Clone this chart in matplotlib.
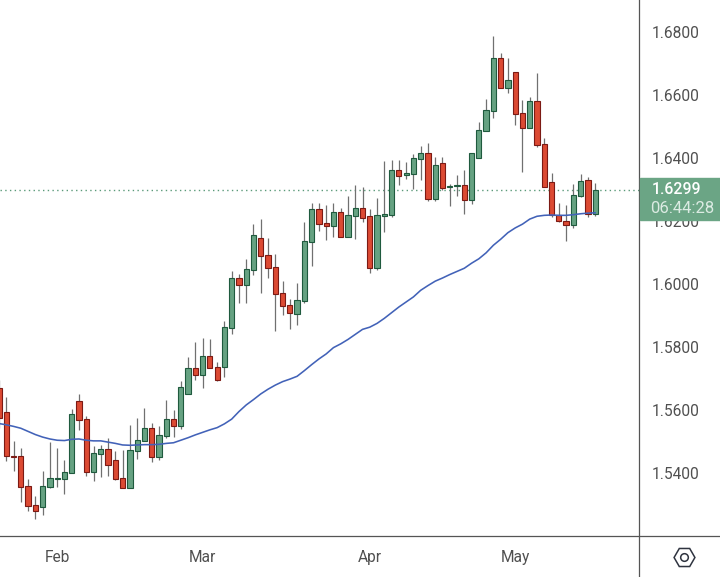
import matplotlib
matplotlib.use('AGG')
import matplotlib.pyplot as plt
from matplotlib.lines import Line2D
from matplotlib.patches import Rectangle
import numpy as np

plt.rcParams['font.family'] = ['Roboto', 'DejaVu Sans']

opens = [1.5669, 1.5593, 1.5455, 1.5453, 1.5358, 1.5297, 1.5293, 1.5357, 1.5382, 1.5382,
         1.5401, 1.5628, 1.5570, 1.5404, 1.5461, 1.5475, 1.5440, 1.5383, 1.5353, 1.5471,
         1.5503, 1.5542, 1.5452, 1.5518, 1.5570, 1.5550, 1.5652, 1.5732, 1.5712, 1.5770,
         1.5736, 1.5737, 1.5861, 1.6018, 1.5998, 1.6045, 1.6145, 1.6091, 1.6053, 1.5970,
         1.5932, 1.5906, 1.5947, 1.6134, 1.6237, 1.6193, 1.6185, 1.6228, 1.6150, 1.6217,
         1.6240, 1.6215, 1.6052, 1.6217, 1.6220, 1.6361, 1.6345, 1.6350, 1.6398, 1.6415,
         1.6271, 1.6383, 1.6308, 1.6311, 1.6313, 1.6268, 1.6401, 1.6487, 1.6550, 1.6716,
         1.6623, 1.6672, 1.6542, 1.6496, 1.6580, 1.6443, 1.6323, 1.6219, 1.6201, 1.6188,
         1.6280, 1.6329, 1.6223]
highs = [1.5695, 1.5641, 1.5502, 1.5479, 1.5381, 1.5327, 1.5406, 1.5498, 1.5479, 1.5441,
         1.5602, 1.5651, 1.5581, 1.5486, 1.5489, 1.5510, 1.5470, 1.5473, 1.5552, 1.5575,
         1.5606, 1.5559, 1.5549, 1.5632, 1.5600, 1.5692, 1.5768, 1.5816, 1.5829, 1.5825,
         1.5752, 1.5883, 1.6041, 1.6032, 1.6079, 1.6190, 1.6206, 1.6146, 1.6095, 1.6010,
         1.5952, 1.6003, 1.6197, 1.6257, 1.6257, 1.6251, 1.6257, 1.6241, 1.6279, 1.6314,
         1.6308, 1.6238, 1.6273, 1.6390, 1.6394, 1.6394, 1.6387, 1.6413, 1.6438, 1.6448,
         1.6403, 1.6403, 1.6317, 1.6346, 1.6362, 1.6416, 1.6514, 1.6587, 1.6787, 1.6733,
         1.6717, 1.6673, 1.6584, 1.6594, 1.6670, 1.6463, 1.6352, 1.6257, 1.6251, 1.6317,
         1.6349, 1.6340, 1.6321]
lows = [1.5543, 1.5438, 1.5406, 1.5308, 1.5279, 1.5255, 1.5267, 1.5352, 1.5356, 1.5333,
        1.5401, 1.5537, 1.5390, 1.5375, 1.5387, 1.5390, 1.5378, 1.5353, 1.5353, 1.5444,
        1.5503, 1.5435, 1.5441, 1.5511, 1.5514, 1.5540, 1.5652, 1.5695, 1.5670, 1.5734,
        1.5692, 1.5705, 1.5842, 1.5940, 1.5940, 1.6029, 1.5971, 1.6019, 1.5851, 1.5902,
        1.5857, 1.5870, 1.5940, 1.6057, 1.6168, 1.6140, 1.6149, 1.6150, 1.6150, 1.6143,
        1.6197, 1.6035, 1.6044, 1.6165, 1.6214, 1.6314, 1.6333, 1.6302, 1.6330, 1.6263,
        1.6263, 1.6298, 1.6248, 1.6279, 1.6222, 1.6254, 1.6401, 1.6487, 1.6528, 1.6623,
        1.6606, 1.6505, 1.6356, 1.6496, 1.6435, 1.6309, 1.6213, 1.6198, 1.6136, 1.6179,
        1.6277, 1.6213, 1.6216]
closes = [1.5574, 1.5455, 1.5452, 1.5357, 1.5296, 1.5280, 1.5358, 1.5383, 1.5384, 1.5402,
          1.5586, 1.5569, 1.5404, 1.5463, 1.5475, 1.5426, 1.5382, 1.5353, 1.5472, 1.5504,
          1.5542, 1.5452, 1.5520, 1.5570, 1.5550, 1.5672, 1.5732, 1.5712, 1.5770, 1.5734,
          1.5696, 1.5863, 1.6018, 1.5998, 1.6047, 1.6155, 1.6090, 1.6052, 1.5969, 1.5931,
          1.5909, 1.5948, 1.6136, 1.6237, 1.6191, 1.6185, 1.6228, 1.6150, 1.6218, 1.6240,
          1.6210, 1.6052, 1.6218, 1.6221, 1.6361, 1.6344, 1.6351, 1.6399, 1.6415, 1.6271,
          1.6377, 1.6306, 1.6311, 1.6314, 1.6268, 1.6415, 1.6488, 1.6551, 1.6716, 1.6623,
          1.6647, 1.6541, 1.6496, 1.6580, 1.6442, 1.6309, 1.6219, 1.6201, 1.6188, 1.6282,
          1.6326, 1.6223, 1.6299]
moving_avg = [1.5557, 1.5553, 1.5548, 1.5542, 1.5532, 1.5522, 1.5514, 1.5508, 1.5504, 1.5503,
              1.5507, 1.5508, 1.5504, 1.5502, 1.5502, 1.5498, 1.5494, 1.5489, 1.5488, 1.5489,
              1.5490, 1.5490, 1.5491, 1.5494, 1.5496, 1.5504, 1.5512, 1.5521, 1.5529, 1.5537,
              1.5544, 1.5556, 1.5571, 1.5595, 1.5616, 1.5633, 1.5651, 1.5666, 1.5679, 1.5690,
              1.5698, 1.5707, 1.5725, 1.5744, 1.5762, 1.5778, 1.5798, 1.5810, 1.5824, 1.5840,
              1.5856, 1.5863, 1.5875, 1.5891, 1.5909, 1.5927, 1.5943, 1.5959, 1.5980, 1.5995,
              1.6009, 1.6019, 1.6030, 1.6040, 1.6050, 1.6066, 1.6080, 1.6099, 1.6123, 1.6142,
              1.6163, 1.6178, 1.6190, 1.6206, 1.6215, 1.6218, 1.6219, 1.6218, 1.6218, 1.6220,
              1.6223, 1.6225, 1.6226]
month_pos = [8, 28, 51, 71]
month_labels = ['Feb', 'Mar', 'Apr', 'May']
price_ticks = [1.54, 1.56, 1.58, 1.60, 1.62, 1.64, 1.66, 1.68]
last_price = 1.6299
countdown = '06:44:28'

GREEN = '#66a282'
GREEN_EDGE = '#1f5a3e'
RED = '#dc4a33'
RED_EDGE = '#7c1a14'
AXIS = '#555555'
TEXT = '#505050'

fig = plt.figure(figsize=(7.2, 5.77), dpi=100)
ax = fig.add_axes([0, 41 / 577, 639 / 720, 536 / 577])

x = np.arange(len(opens))
o = np.array(opens)
c = np.array(closes)
up = c >= o

ax.vlines(x, lows, highs, color='#707070', linewidth=0.9, zorder=2)
ax.bar(x, np.abs(c - o), bottom=np.minimum(o, c), width=0.72,
       color=[GREEN if u else RED for u in up],
       edgecolor=[GREEN_EDGE if u else RED_EDGE for u in up],
       linewidth=0.8, zorder=3)
ax.plot(x, moving_avg, color='#4262b8', linewidth=1.15, zorder=4)
ax.axhline(last_price, color='#5b9a7a', linewidth=1, linestyle=(0, (1, 2.4)), zorder=1)

ax.set_xlim(0.133, 88.03)
ax.set_ylim(1.52, 1.69016)
ax.yaxis.tick_right()
ax.set_yticks(price_ticks)
ax.set_yticklabels(['%.4f' % p for p in price_ticks], va='center_baseline')
ax.set_xticks(month_pos)
ax.set_xticklabels(month_labels)
ax.tick_params(axis='y', length=0, pad=9.4, labelsize=11.2, labelcolor=TEXT)
ax.tick_params(axis='x', length=0, pad=10, labelsize=11.2, labelcolor=TEXT)
for side in ax.spines:
    ax.spines[side].set_visible(False)

# axis lines run on past the plot area
fig.add_artist(Line2D([639.2 / 720, 639.2 / 720], [0, 1], color=AXIS, linewidth=0.9))
fig.add_artist(Line2D([0, 1], [41 / 577, 41 / 577], color=AXIS, linewidth=0.9))

# price label sitting on the axis
box_y = 1 - 220 / 577
fig.add_artist(Rectangle((640 / 720, box_y), 80 / 720, 42 / 577,
                         transform=fig.transFigure, color='#6ba585', zorder=5))
fig.text(651.5 / 720, 1 - 190 / 577, '%.4f' % last_price, color='white', fontsize=11.4,
         fontweight='medium', va='center', ha='left', zorder=6)
fig.text(650.5 / 720, 1 - 208.5 / 577, countdown, color='#dcebe3', fontsize=12,
         va='center', ha='left', zorder=6)

# settings hexagon in the corner
ax.plot([684 / 720], [1 - 557 / 577], marker='H', markersize=15, markerfacecolor='white',
        markeredgecolor='#2f3440', markeredgewidth=1.1, transform=fig.transFigure, clip_on=False)
ax.plot([684 / 720], [1 - 557 / 577], marker='o', markersize=5.5, markerfacecolor='white',
        markeredgecolor='#2f3440', markeredgewidth=1.1, transform=fig.transFigure, clip_on=False)

plt.savefig('out.png', dpi=100)
